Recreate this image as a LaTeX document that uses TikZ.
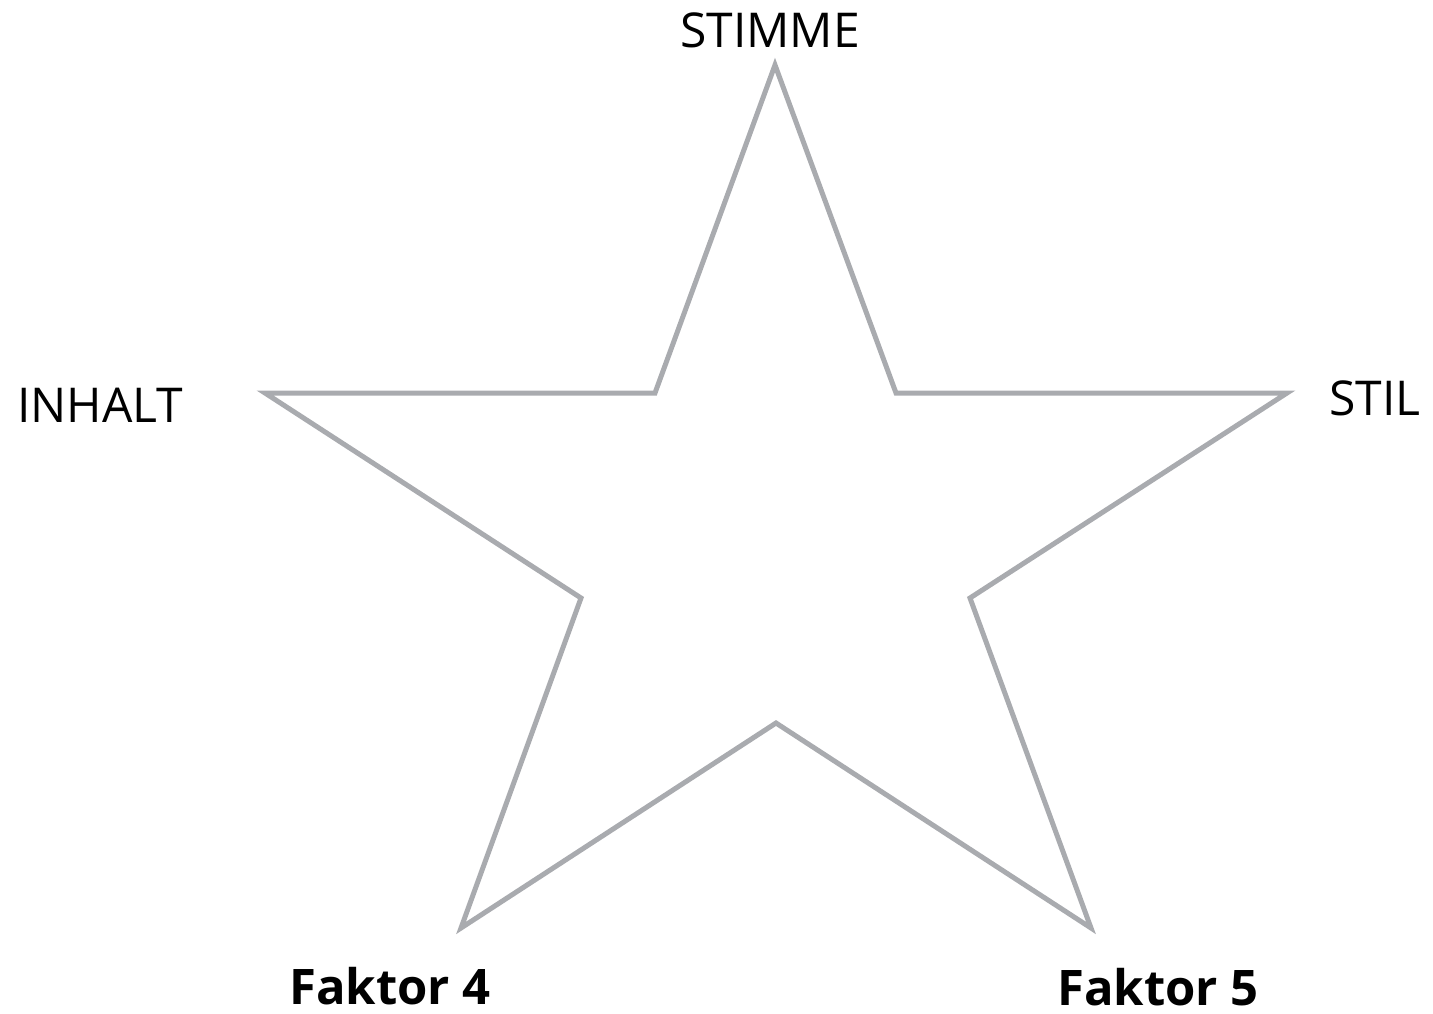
\documentclass[tikz,border=0pt]{standalone}
\usepackage{fontspec}
\setmainfont{Open Sans}
\definecolor{stargray}{RGB}{169,171,175}
\begin{document}
\begin{tikzpicture}[x=1pt,y=-1pt,
  lbl/.style={inner sep=0pt,anchor=base,font=\fontsize{48}{56}\selectfont},
  blbl/.style={lbl,font=\fontsize{49}{56}\selectfont\bfseries},
  starline/.style={draw=stargray,line width=5pt,line join=miter}]
\useasboundingbox (0,0) rectangle (1433,1014);
\coordinate (p1) at (775,65);
\coordinate (p2) at (896,393);
\coordinate (p3) at (1287,393);
\coordinate (p4) at (970,598);
\coordinate (p5) at (1091,928);
\coordinate (p6) at (776,723);
\coordinate (p7) at (461,928);
\coordinate (p8) at (581,598);
\coordinate (p9) at (265,393);
\coordinate (p10) at (655,393);
\draw[starline] (p1) -- (p2) -- (p3) -- (p4) -- (p5) -- (p6) -- (p7) -- (p8) -- (p9) -- (p10) -- cycle;
\node[lbl] (stimme) at (770,48) {STIMME};
\node[lbl] (inhalt) at (100,422) {INHALT};
\node[lbl] (stil) at (1375,415) {STIL};
\node[blbl] (f4) at (390,1004) {Faktor 4};
\node[blbl] (f5) at (1158,1005) {Faktor 5};
\end{tikzpicture}
\end{document}
